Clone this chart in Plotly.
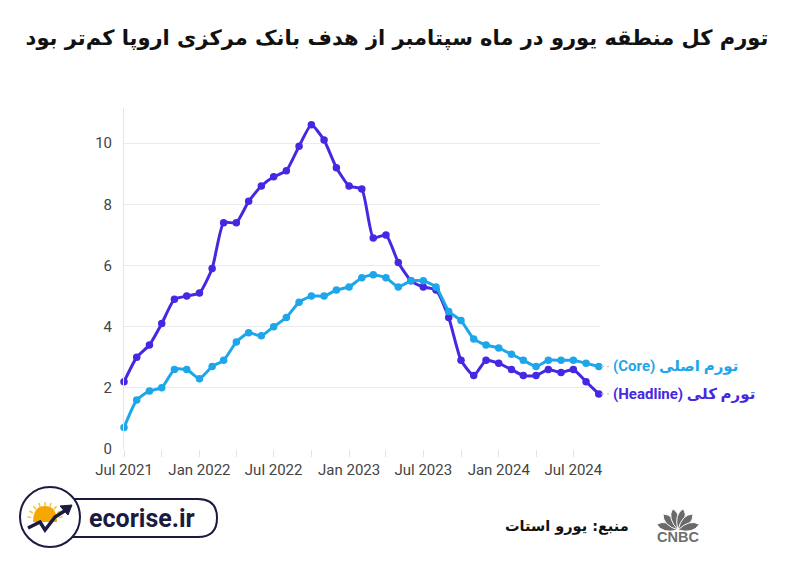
import plotly.graph_objects as go
import pandas as pd
import math

months = pd.date_range("2021-07-01", "2024-09-01", freq="MS")
headline = [2.2, 3.0, 3.4, 4.1, 4.9, 5.0, 5.1, 5.9, 7.4, 7.4, 8.1, 8.6,
            8.9, 9.1, 9.9, 10.6, 10.1, 9.2, 8.6, 8.5, 6.9, 7.0, 6.1, 5.5,
            5.3, 5.2, 4.3, 2.9, 2.4, 2.9, 2.8, 2.6, 2.4, 2.4, 2.6, 2.5,
            2.6, 2.2, 1.8]
core = [0.7, 1.6, 1.9, 2.0, 2.6, 2.6, 2.3, 2.7, 2.9, 3.5, 3.8, 3.7,
        4.0, 4.3, 4.8, 5.0, 5.0, 5.2, 5.3, 5.6, 5.7, 5.6, 5.3, 5.5,
        5.5, 5.3, 4.5, 4.2, 3.6, 3.4, 3.3, 3.1, 2.9, 2.7, 2.9, 2.9,
        2.9, 2.8, 2.7]
y_ticks = [0, 2, 4, 6, 8, 10]
title = "تورم کل منطقه یورو در ماه سپتامبر از هدف بانک مرکزی اروپا کم‌تر بود"
core_label = "(Core) تورم اصلی"
headline_label = "(Headline) تورم کلی"
source_text = "منبع: یورو استات"

C_HEAD = "#4628e2"
C_CORE = "#1ea6ea"
NAVY = "#1b1a40"

W, H = 778, 547
L, R, T, B = 116, 186, 100, 106
PW, PH = W - L - R, H - T - B
OFF = 8  # page body margin


def px(x):
    return (x - OFF - L) / PW


def py(y):
    return (H - B - (y - OFF)) / PH


fig = go.Figure()
fig.add_trace(go.Scatter(x=months, y=headline, mode="lines+markers",
                         line=dict(color=C_HEAD, width=3, shape="spline", smoothing=0.5),
                         marker=dict(color=C_HEAD, size=7.5), cliponaxis=False,
                         showlegend=False))
fig.add_trace(go.Scatter(x=months, y=core, mode="lines+markers",
                         line=dict(color=C_CORE, width=3, shape="spline", smoothing=0.5),
                         marker=dict(color=C_CORE, size=7.5), cliponaxis=False,
                         showlegend=False))

fig.update_layout(
    width=W, height=H,
    margin=dict(l=L, r=R, t=T, b=B),
    plot_bgcolor="white", paper_bgcolor="white",
    font=dict(family="Roboto, DejaVu Sans", color="#444"),
    title=dict(text="<b>" + title + "</b>", x=0.5, xanchor="center",
               y=1 - 30 / H, yanchor="middle",
               font=dict(family="DejaVu Sans", size=21, color="#111")),
)
fig.update_xaxes(
    range=[pd.Timestamp("2021-07-01"), pd.Timestamp("2024-09-04")],
    tickformat="%b %Y", dtick="M6", tick0="2021-07-01",
    ticks="outside", ticklen=7, tickcolor="#e3e3e3",
    minor=dict(dtick="M3", ticks="outside", ticklen=7, tickcolor="#e3e3e3", showgrid=False),
    showgrid=False, showline=False, zeroline=False,
    tickfont=dict(size=15, color="#444"),
)
fig.update_yaxes(
    range=[0, 11.15], tickvals=y_ticks, showgrid=True, gridcolor="#ebebeb",
    zeroline=False, showline=True, linecolor="#e6e6e6", ticks="",
    ticklabelstandoff=8, tickfont=dict(size=15, color="#444"),
)

# end labels with small connectors
for val, txt, col in [(core[-1], core_label, C_CORE), (headline[-1], headline_label, C_HEAD)]:
    fig.add_shape(type="line", xref="paper", yref="y", x0=px(601), x1=px(609), y0=val, y1=val,
                  line=dict(color="#bbbbbb", width=1, dash="dot"))
    fig.add_annotation(x=px(611), xref="paper", y=val, yref="y", text="<b>" + txt + "</b>",
                       showarrow=False, xanchor="left", yanchor="middle",
                       font=dict(family="Roboto, DejaVu Sans", size=15, color=col))

# source
fig.add_annotation(x=px(631), y=py(526), xref="paper", yref="paper", text="<b>" + source_text + "</b>",
                   showarrow=False, xanchor="right", yanchor="middle",
                   font=dict(family="DejaVu Sans", size=14.5, color="#111"))

# CNBC logo
fig.add_annotation(x=px(678), y=py(537), xref="paper", yref="paper", text="<b>CNBC</b>",
                   showarrow=False, xanchor="center", yanchor="middle",
                   font=dict(family="Liberation Sans", size=14.5, color="#6e6e6e"))
cx, cy = 678, 530
for ang in [165, 133, 104, 76, 47, 15]:
    a = math.radians(ang)
    tx, ty = cx + 22 * math.cos(a), cy - 22 * math.sin(a)
    pa = a + math.pi / 2
    mx, my = cx + 14 * math.cos(a), cy - 14 * math.sin(a)
    s1x, s1y = mx + 8 * math.cos(pa), my - 8 * math.sin(pa)
    s2x, s2y = mx - 8 * math.cos(pa), my + 8 * math.sin(pa)
    fig.add_shape(type="path", xref="paper", yref="paper",
                  path=(f"M {px(cx)},{py(cy)} Q {px(s1x)},{py(s1y)} {px(tx)},{py(ty)} "
                        f"Q {px(s2x)},{py(s2y)} {px(cx)},{py(cy)} Z"),
                  line=dict(color="white", width=1), fillcolor="#6a6a6a")

# ecorise logo
fig.add_shape(type="path", xref="paper", yref="paper",
              path=(f"M {px(70)},{py(499)} L {px(198)},{py(499)} "
                    f"Q {px(217)},{py(499)} {px(217)},{py(518)} "
                    f"Q {px(217)},{py(537)} {px(198)},{py(537)} "
                    f"L {px(70)},{py(537)}"),
              line=dict(color=NAVY, width=2), fillcolor="rgba(0,0,0,0)")
fig.add_shape(type="circle", xref="paper", yref="paper",
              x0=px(20), x1=px(80), y0=py(547), y1=py(487),
              line=dict(color=NAVY, width=2), fillcolor="white")
fig.add_shape(type="path", xref="paper", yref="paper",
              path=(f"M {px(33)},{py(522)} Q {px(33)},{py(506)} {px(45)},{py(506)} "
                    f"Q {px(57)},{py(506)} {px(57)},{py(522)} Z"),
              line=dict(color="#f6a800", width=0), fillcolor="#f6a800")
for ang in range(10, 180, 20):
    a = math.radians(ang)
    fig.add_shape(type="line", xref="paper", yref="paper",
                  x0=px(45 + 14 * math.cos(a)), y0=py(520 - 14 * math.sin(a)),
                  x1=px(45 + 18 * math.cos(a)), y1=py(520 - 18 * math.sin(a)),
                  line=dict(color="#f8c040", width=1.5))
fig.add_shape(type="path", xref="paper", yref="paper",
              path=(f"M {px(28)},{py(528)} L {px(40)},{py(522)} L {px(45)},{py(530)} "
                    f"L {px(55)},{py(517)} L {px(66)},{py(510)}"),
              line=dict(color=NAVY, width=3.5), fillcolor="rgba(0,0,0,0)")
fig.add_shape(type="path", xref="paper", yref="paper",
              path=f"M {px(72)},{py(505)} L {px(60)},{py(506)} L {px(68)},{py(515)} Z",
              line=dict(color=NAVY, width=1), fillcolor=NAVY)
fig.add_annotation(x=px(142), y=py(518), xref="paper", yref="paper", text="<b>ecorise.ir</b>",
                   showarrow=False, xanchor="center", yanchor="middle",
                   font=dict(family="Roboto", size=25, color=NAVY))

fig.write_html("out.html")
